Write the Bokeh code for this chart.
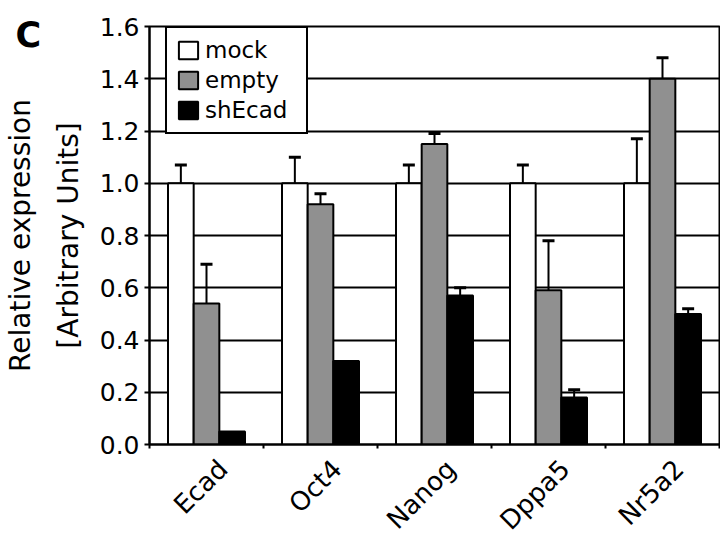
import math
from bokeh.plotting import figure
from bokeh.models import (Range1d, FixedTicker, PrintfTickFormatter, Whisker, TeeHead,
                          ColumnDataSource, Legend)
from bokeh.embed import file_html
from bokeh.resources import INLINE

# ---- data ----
genes = ["Ecad", "Oct4", "Nanog", "Dppa5", "Nr5a2"]
series = ["mock", "empty", "shEcad"]
mock = [1.0, 1.0, 1.0, 1.0, 1.0]
mock_err = [1.07, 1.10, 1.07, 1.07, 1.17]
empty = [0.54, 0.92, 1.15, 0.59, 1.40]
empty_err = [0.69, 0.96, 1.19, 0.78, 1.48]
shecad = [0.05, 0.32, 0.57, 0.18, 0.50]
shecad_err = [None, None, 0.60, 0.21, 0.52]
y_ticks = [0.0, 0.2, 0.4, 0.6, 0.8, 1.0, 1.2, 1.4, 1.6]
panel_letter = "C"

colors = ["white", "#909090", "black"]
values = [mock, empty, shecad]
errors = [mock_err, empty_err, shecad_err]

FONT = "DejaVu Sans"
BAR_W = 0.225
offsets = [-BAR_W, 0.0, BAR_W]
W, H = 720, 549
TOP, BOTTOM = 26, 105

p = figure(width=W, height=H, output_backend="svg", toolbar_location=None,
           x_range=Range1d(0, len(genes)), y_range=Range1d(0, 1.6),
           min_border_left=147, min_border_right=1, min_border_top=TOP, min_border_bottom=BOTTOM)

# panel letter as a (negatively offset) title; leading empty line pushes it down
p.title.text = "\n" + panel_letter
p.title.text_font = FONT
p.title.text_font_size = "35px"
p.title.text_font_style = "bold"
p.title.text_color = "black"
p.title.text_line_height = 1.0
p.title.align = "left"
p.title.vertical_align = "middle"
p.title.offset = -134
p.title.standoff = -59

p.outline_line_color = "black"
p.outline_line_width = 2
p.xgrid.visible = False
p.ygrid.ticker = FixedTicker(ticks=y_ticks)
p.ygrid.grid_line_color = "black"
p.ygrid.grid_line_width = 2

legend_items = []
for s_name, col, vals, errs, off in zip(series, colors, values, errors, offsets):
    xs = [i + 0.5 + off for i in range(len(genes))]
    r = p.vbar(x=xs, top=vals, width=BAR_W, fill_color=col, line_color="black", line_width=2)
    legend_items.append((s_name, [r]))
    wx, wl, wu = [], [], []
    for x, v, e in zip(xs, vals, errs):
        if e is not None and e > v:
            wx.append(x); wl.append(v); wu.append(e)
    src = ColumnDataSource(dict(base=wx, lower=wl, upper=wu))
    w = Whisker(source=src, base="base", lower="lower", upper="upper",
                lower_head=None, upper_head=TeeHead(size=12, line_width=3, line_color="black"),
                line_color="black", line_width=2)
    p.add_layout(w)

legend = Legend(items=legend_items, location=(16, 310))
legend.border_line_color = "black"
legend.border_line_alpha = 1.0
legend.border_line_width = 2
legend.background_fill_color = "white"
legend.background_fill_alpha = 1.0
legend.label_text_font = FONT
legend.label_text_font_size = "23px"
legend.label_text_color = "black"
legend.glyph_width = 24
legend.glyph_height = 22
legend.label_height = 22
legend.label_width = 92
legend.label_standoff = 5
legend.padding = 9
legend.spacing = 4
legend.margin = 0
p.add_layout(legend)

# y axis
ya = p.yaxis[0]
ya.ticker = FixedTicker(ticks=y_ticks)
ya.formatter = PrintfTickFormatter(format="%.1f")
ya.axis_line_width = 2
ya.major_tick_line_width = 2
ya.major_tick_out = 5
ya.major_tick_in = 0
ya.minor_tick_line_color = None
ya.major_label_text_font = FONT
ya.major_label_text_font_size = "25px"
ya.major_label_text_color = "black"
ya.major_label_standoff = 5
ya.axis_label = "Relative expression\n[Arbitrary Units]"
ya.axis_label_text_font = FONT
ya.axis_label_text_font_size = "28px"
ya.axis_label_text_font_style = "normal"
ya.axis_label_text_color = "black"
ya.axis_label_text_line_height = 1.45
ya.axis_label_standoff = 12

# x axis
xa = p.xaxis[0]
label_pos = [i + 0.5 + 0.145 for i in range(len(genes))]
bounds = [float(i) for i in range(len(genes) + 1)]
xa.ticker = FixedTicker(ticks=label_pos, minor_ticks=bounds)
xa.major_label_overrides = {c: g for c, g in zip(label_pos, genes)}
xa.axis_line_width = 2
xa.major_tick_line_color = None
xa.minor_tick_line_width = 2
xa.minor_tick_out = 4
xa.minor_tick_in = 0
xa.major_label_orientation = math.pi / 4
xa.major_label_text_font = FONT
xa.major_label_text_font_size = "26px"
xa.major_label_text_color = "black"
xa.major_label_standoff = 14

open("out.html", "w").write(file_html(p, INLINE))
